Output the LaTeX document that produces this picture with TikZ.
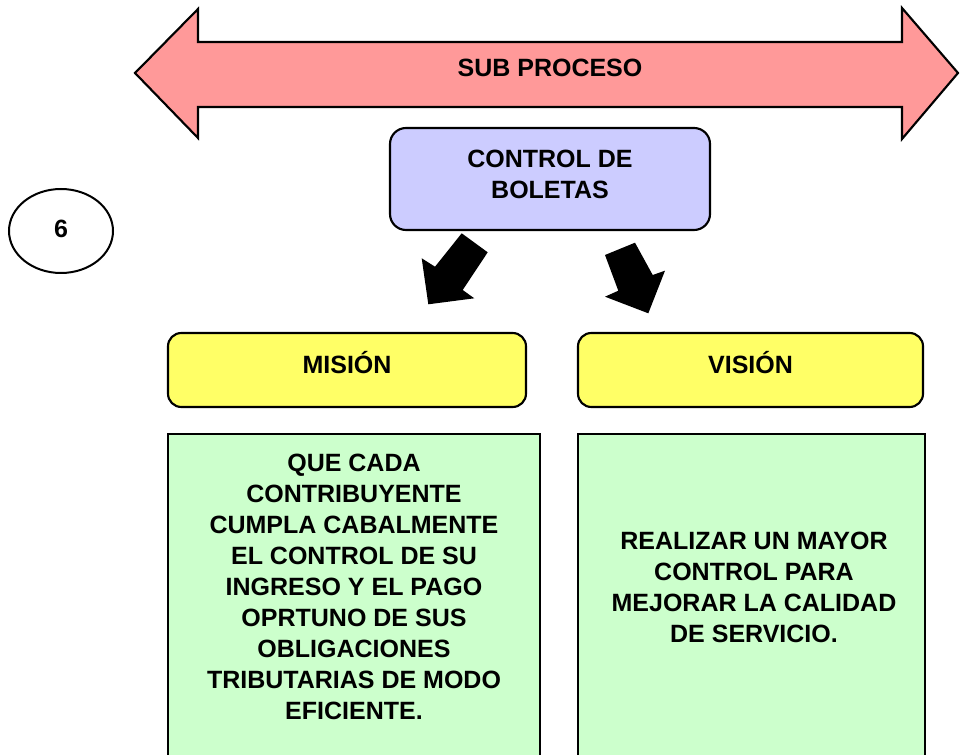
\documentclass[tikz,border=0pt]{standalone}
\usepackage{fontspec}
\setmainfont{Liberation Sans}
\usetikzlibrary{shapes.geometric}
\definecolor{arrowred}{HTML}{FF9999}
\definecolor{lav}{HTML}{CCCCFF}
\definecolor{yel}{HTML}{FFFF66}
\definecolor{grn}{HTML}{CCFFCC}
\tikzset{
  lbl/.style={font=\bfseries\fontsize{18.75}{23.25}\selectfont, align=center, inner sep=0pt},
  rbox/.style={draw=black, line width=1.6pt, rounded corners=10pt, inner sep=0pt},
  gbox/.style={draw=black, line width=1.6pt, fill=grn, inner sep=0pt},
  blk/.style={fill=black, draw=none}
}
\begin{document}
\begin{tikzpicture}[x=0.75pt,y=-0.75pt]
\clip (0,0) rectangle (960,755);
\fill[white] (0,0) rectangle (960,755);
% double arrow
\draw[line width=1.6pt, fill=arrowred, line join=miter]
  (135,73) -- (198,9) -- (198,42) -- (902,42) -- (902,8) -- (958,73)
  -- (902,139) -- (902,107) -- (198,107) -- (198,138) -- cycle;
\node[lbl] (sub) at (550,68) {SUB PROCESO};
% control de boletas
\node[rbox, fill=lav, minimum width=240pt, minimum height=76.5pt, rounded corners=12pt] (ctrl) at (550,179) {};
\node[lbl] (ctrltxt) at (550,174) {CONTROL DE\\BOLETAS};
% circle
\node[draw, line width=1.5pt, ellipse, minimum width=78pt, minimum height=63pt, inner sep=0pt] (six) at (61,231) {};
\node[lbl] (sixtxt) at (61,229) {6};
% block arrows
\path[blk] (461.7,233.3) -- (487.7,252.3) -- (462.7,290) -- (474.3,298.3)
  -- (428.3,304.3) -- (421.7,258.3) -- (435,266.7) -- cycle;
\path[blk] (605,255) -- (635,242.7) -- (652.7,275) -- (665,270.7)
  -- (648.3,313.3) -- (605,296.7) -- (618.3,290.7) -- cycle;
% yellow boxes
\node[rbox, fill=yel, minimum width=268.5pt, minimum height=55.5pt] (mis) at (347,370) {};
\node[lbl] (mistxt) at (347,363) {MISIÓN};
\node[rbox, fill=yel, minimum width=258.75pt, minimum height=55.5pt] (vis) at (750.5,370) {};
\node[lbl] (vistxt) at (750.5,363) {VISIÓN};
% green boxes
\node[gbox, minimum width=279pt, minimum height=259.5pt] (misbox) at (354,607) {};
\node[lbl] (misbody) at (354,587) {QUE CADA\\CONTRIBUYENTE\\CUMPLA CABALMENTE\\EL CONTROL DE SU\\INGRESO Y EL PAGO\\OPRTUNO DE SUS\\OBLIGACIONES\\TRIBUTARIAS DE MODO\\EFICIENTE.};
\node[gbox, minimum width=260.25pt, minimum height=259.5pt] (visbox) at (751.5,607) {};
\node[lbl] (visbody) at (754,587) {REALIZAR UN MAYOR\\CONTROL PARA\\MEJORAR LA CALIDAD\\DE SERVICIO.};
\end{tikzpicture}
\end{document}
